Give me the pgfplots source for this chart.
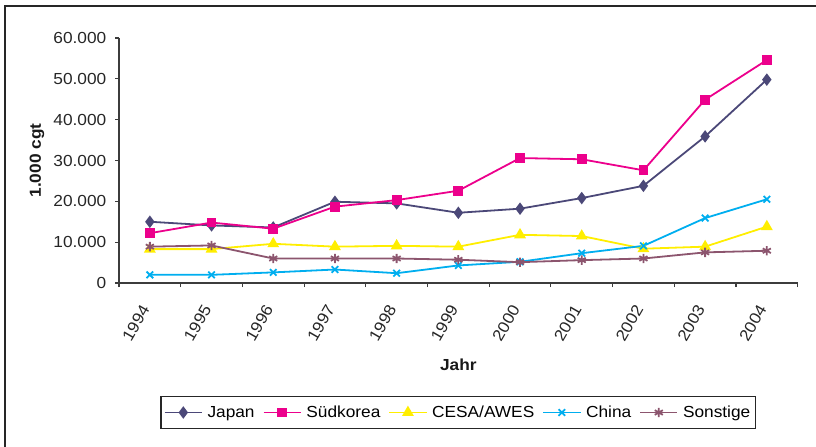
\documentclass[border=0pt]{standalone}
\usepackage{fontspec}
\setmainfont[FakeStretch=1.08]{Liberation Sans}
\usepackage{pgfplots}
\pgfplotsset{compat=1.18}

\definecolor{japan}{RGB}{75,72,120}
\definecolor{korea}{RGB}{236,0,140}
\definecolor{cesa}{RGB}{255,238,0}
\definecolor{china}{RGB}{0,174,239}
\definecolor{sonst}{RGB}{140,85,110}
\definecolor{axgray}{RGB}{60,60,60}

\begin{document}
\begin{tikzpicture}[x=0.75pt,y=0.75pt]
\useasboundingbox (0,0) rectangle (816,446);
\draw[line width=1pt, black!85] (5,-5) -- (5,440) -- (820,440);
\begin{axis}[
  at={(89.25pt,122.25pt)}, anchor=south west,
  width=509pt, height=183.75pt, scale only axis,
  xmin=-0.5, xmax=10.5, ymin=0, ymax=60000,
  axis lines=left,
  axis line style={-, draw=axgray, line width=0.8pt},
  tick style={draw=axgray, line width=0.8pt},
  tick align=outside,
  major tick length=3pt, minor tick length=3pt,
  xtick={0,...,10},
  xticklabels={1994,1995,1996,1997,1998,1999,2000,2001,2002,2003,2004},
  major x tick style={draw=none},
  minor xtick={-0.5,0.5,...,10.5},
  ytick={0,10000,20000,30000,40000,50000,60000},
  yticklabels={0,10.000,20.000,30.000,40.000,50.000,60.000},
  scaled y ticks=false,
  tick label style={font=\fontsize{12}{14}\selectfont, text=black!85},
  xticklabel style={xshift=-1.5pt, yshift=-11.5pt, rotate=60, anchor=east},
  yticklabel style={xshift=-3pt},
  ylabel={1.000 cgt},
  xlabel={Jahr},
  every axis y label/.style={at={(-0.1208,0.5)}, rotate=90, anchor=center,
    font=\bfseries\fontsize{12}{14}\selectfont, text=black!90},
  every axis x label/.style={at={(0.5,-0.3327)}, anchor=center,
    font=\bfseries\fontsize{12}{14}\selectfont, text=black!90},
  clip=false,
  legend columns=-1,
  legend style={at={(0.5,-0.5286)}, anchor=center, draw=black!85,
    line width=0.9pt, font=\fontsize{12}{14}\selectfont,
    inner xsep=2pt, inner ysep=5pt,
    /tikz/every odd column/.append style={column sep=1.5pt},
    /tikz/every even column/.append style={column sep=4pt}},
  legend image code/.code={%
    \draw[mark repeat=2, mark phase=2] plot coordinates {(0pt,0pt) (14pt,0pt) (28pt,0pt)};},
  every axis plot/.append style={line width=1.35pt},
]
\addplot[color=japan, mark=diamond*, mark size=3.6pt, mark options={solid, fill=japan}]
  coordinates {(0,15000)(1,14100)(2,13600)(3,19900)(4,19500)(5,17200)
               (6,18200)(7,20800)(8,23800)(9,35900)(10,49800)};
\addlegendentry{Japan}
\addplot[color=korea, mark=square*, mark size=3pt, mark options={solid, fill=korea}]
  coordinates {(0,12200)(1,14800)(2,13300)(3,18700)(4,20300)(5,22600)
               (6,30600)(7,30300)(8,27600)(9,44900)(10,54600)};
\addlegendentry{Südkorea}
\addplot[color=cesa, mark=triangle*, mark size=3.8pt, mark options={solid, fill=cesa}]
  coordinates {(0,8300)(1,8300)(2,9600)(3,8900)(4,9100)(5,8900)
               (6,11800)(7,11500)(8,8400)(9,8900)(10,13800)};
\addlegendentry{CESA/AWES}
\addplot[color=china, mark=x, mark size=3.5pt, mark options={solid}]
  coordinates {(0,2000)(1,2000)(2,2600)(3,3300)(4,2400)(5,4300)
               (6,5200)(7,7300)(8,9100)(9,15900)(10,20500)};
\addlegendentry{China}
\addplot[color=sonst, mark=asterisk, mark size=3.5pt, mark options={solid}]
  coordinates {(0,8900)(1,9200)(2,6000)(3,6000)(4,6000)(5,5700)
               (6,5100)(7,5600)(8,6000)(9,7500)(10,7900)};
\addlegendentry{Sonstige}
\end{axis}
\end{tikzpicture}
\end{document}
